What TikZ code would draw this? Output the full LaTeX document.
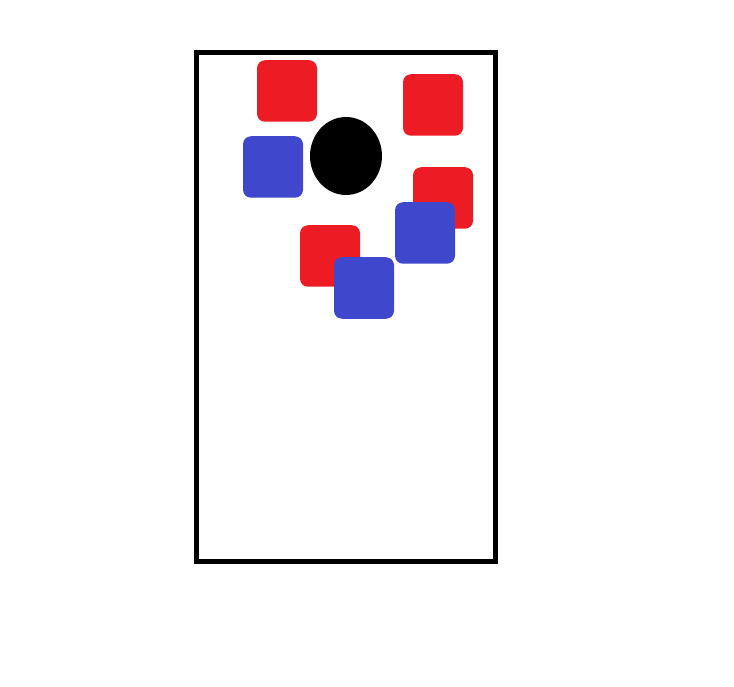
\documentclass[tikz,border=0pt]{standalone}
\definecolor{bagred}{HTML}{ED1C24}
\definecolor{bagblue}{HTML}{3F48CC}
\tikzset{board/.style={draw=black,line width=5pt},
    bag/.style={rounded corners=8pt,inner sep=0pt,
        minimum width=60pt,minimum height=61.5pt},
    redbag/.style={bag,fill=bagred},
    bluebag/.style={bag,fill=bagblue},
    hole/.style={ellipse,fill=black,inner sep=0pt,
        minimum width=72pt,minimum height=78pt},
    }
\usetikzlibrary{shapes.geometric}
\begin{document}
\begin{tikzpicture}[x=1pt,y=-1pt]
\useasboundingbox (0,0) rectangle (734,687);
\draw[board] (196.5,53) rectangle (495,561);
\node[hole] (hole) at (346,156) {};
% red bags
\node[redbag] (red1) at (287,91) {};
\node[redbag] (red2) at (433,105) {};
\node[redbag] (red3) at (443,198) {};
\node[redbag] (red4) at (330,256) {};
% blue bags
\node[bluebag] (blue1) at (273,167) {};
\node[bluebag] (blue2) at (425,233) {};
\node[bluebag] (blue3) at (364,288) {};
\end{tikzpicture}
\end{document}
